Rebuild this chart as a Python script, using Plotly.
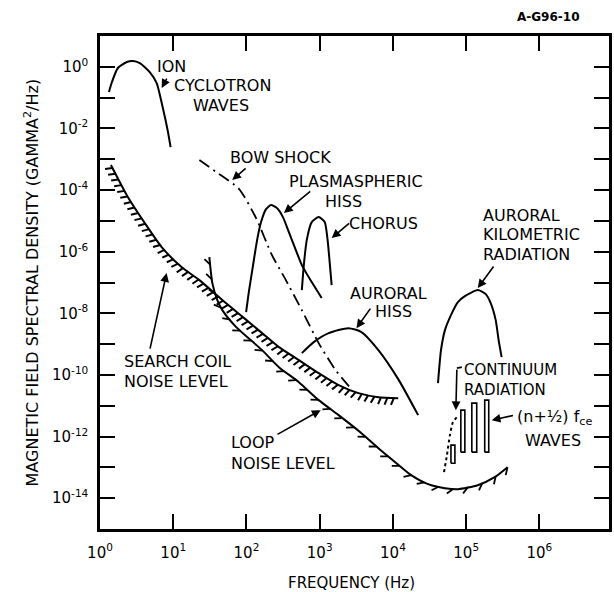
import numpy as np
import plotly.graph_objects as go

# ---------------- data (log10 of frequency in Hz, log10 of spectral density) ----------------
ion_log_f = [0.122, 0.163, 0.244, 0.366, 0.448, 0.543, 0.679, 0.774, 0.855, 0.923, 0.964]
ion_log_s = [-0.818, -0.494, -0.039, 0.156, 0.188, 0.123, -0.169, -0.526, -1.305, -2.052, -2.604]

search_log_f = [0.149, 0.380, 0.611, 0.842, 1.113, 1.357, 1.670, 1.968, 2.213, 2.443, 2.715,
                2.986, 3.258, 3.529, 3.801, 4.072]
search_log_s = [-3.188, -4.227, -5.071, -5.851, -6.500, -6.922, -7.571, -8.156, -8.643, -9.097,
                -9.519, -9.942, -10.331, -10.591, -10.721, -10.753]

loop_log_f = [1.493, 1.534, 1.602, 1.670, 1.860, 2.213, 2.443, 2.715, 2.986, 3.258, 3.570, 3.801,
              4.031, 4.249, 4.479, 4.710, 4.887, 5.158, 5.389, 5.565]
loop_log_s = [-6.175, -7.019, -7.571, -7.896, -8.448, -9.195, -9.747, -10.234, -10.818, -11.305,
              -11.890, -12.377, -12.831, -13.253, -13.545, -13.675, -13.708, -13.578, -13.318, -12.994]

bow_log_f = [1.357, 1.588, 1.900, 2.131, 2.348, 2.538, 2.756, 2.986, 3.217, 3.434]
bow_log_s = [-3.026, -3.416, -3.968, -4.909, -6.110, -6.922, -7.896, -8.968, -9.844, -10.461]

plasma_log_f = [1.995, 2.036, 2.090, 2.145, 2.199, 2.267, 2.335, 2.416, 2.498, 2.579, 2.674,
                2.756, 2.891, 3.027]
plasma_log_s = [-7.961, -7.247, -6.435, -5.623, -5.039, -4.617, -4.487, -4.584, -4.877, -5.364,
                -5.948, -6.435, -6.987, -7.506]

chorus_log_f = [2.756, 2.783, 2.823, 2.891, 2.986, 3.068, 3.108, 3.136, 3.163]
chorus_log_s = [-7.247, -6.435, -5.623, -5.039, -4.877, -5.039, -5.623, -6.338, -7.084]

auroral_log_f = [2.756, 2.918, 3.122, 3.393, 3.570, 3.801, 4.072, 4.344]
auroral_log_s = [-9.292, -8.935, -8.643, -8.481, -8.610, -9.195, -10.136, -11.305]

akr_log_f = [4.615, 4.656, 4.710, 4.792, 4.887, 4.982, 5.158, 5.267, 5.335, 5.403, 5.443, 5.484]
akr_log_s = [-10.266, -9.195, -8.545, -8.058, -7.636, -7.442, -7.247, -7.377, -7.669, -8.221,
             -8.870, -9.422]

continuum_log_f = [4.697, 4.737, 4.778, 4.819, 4.873]
continuum_log_s = [-13.156, -12.604, -11.955, -11.532, -11.370]

# (n + 1/2) fce wave bands: left / right frequency, top and base level
band_left_log_f = [4.792, 4.927, 5.077, 5.253]
band_right_log_f = [4.846, 4.982, 5.144, 5.308]
band_top_log_s = [-12.279, -11.143, -10.916, -10.818]
band_base_log_s = [-12.864, -12.506, -12.506, -12.506]

x_tick_exp = [0, 1, 2, 3, 4, 5, 6]
x_tick_labels = ["10<sup>0</sup>", "10<sup>1</sup>", "10<sup>2</sup>", "10<sup>3</sup>",
                 "10<sup>4</sup>", "10<sup>5</sup>", "10<sup>6</sup>"]
y_tick_exp = list(range(-14, 1))
y_tick_labels = ["10<sup>-14</sup>", "", "10<sup>-12</sup>", "", "10<sup>-10</sup>", "",
                 "10<sup>-8</sup>", "", "10<sup>-6</sup>", "", "10<sup>-4</sup>", "",
                 "10<sup>-2</sup>", "", "10<sup>0</sup>"]

# ---------------- geometry of the axes (pixels per decade) ----------------
X_RANGE = [0, 6.95]
Y_RANGE = [-15, 1]
PLOT_W, PLOT_H = 512, 493
PX_X = PLOT_W / (X_RANGE[1] - X_RANGE[0])
PX_Y = PLOT_H / (Y_RANGE[1] - Y_RANGE[0])

BLACK = "black"
FONT = "DejaVu Sans"


def pw(a):
    return [10 ** v for v in a]


def hatch(lf, ls, spacing, length, angle_deg):
    u = np.array(lf) * PX_X
    v = -np.array(ls) * PX_Y
    du, dv = np.diff(u), np.diff(v)
    seg = np.hypot(du, dv)
    s = np.concatenate([[0], np.cumsum(seg)])
    a = np.radians(angle_deg)
    xs, ys = [], []
    for p in np.arange(spacing / 2, s[-1], spacing):
        i = min(int(np.searchsorted(s, p, side="right")) - 1, len(seg) - 1)
        t = (p - s[i]) / seg[i]
        pu, pv = u[i] + t * du[i], v[i] + t * dv[i]
        tu, tv = du[i] / seg[i], dv[i] / seg[i]
        nu, nv = -tv, tu
        hu = np.cos(a) * nu - np.sin(a) * tu
        hv = np.cos(a) * nv - np.sin(a) * tv
        qu, qv = pu + length * hu, pv + length * hv
        xs += [10 ** (pu / PX_X), 10 ** (qu / PX_X), None]
        ys += [10 ** (-pv / PX_Y), 10 ** (-qv / PX_Y), None]
    return xs, ys


fig = go.Figure()


def curve(lf, ls, dash="solid", width=2.0, shape="spline"):
    fig.add_trace(go.Scatter(x=pw(lf), y=pw(ls), mode="lines",
                             line=dict(color=BLACK, width=width, dash=dash, shape=shape,
                                       smoothing=0.6),
                             hoverinfo="skip"))


curve(ion_log_f, ion_log_s)
curve(search_log_f, search_log_s)
curve(loop_log_f, loop_log_s)
curve(bow_log_f, bow_log_s, dash="12px,5px,2px,5px", width=1.8)
curve(plasma_log_f, plasma_log_s)
curve(chorus_log_f, chorus_log_s)
curve(auroral_log_f, auroral_log_s)
curve(akr_log_f, akr_log_s)
curve(continuum_log_f, continuum_log_s, dash="3px,3px", width=2.0)

# hatching
hx, hy = hatch(search_log_f, search_log_s, 6.5, 7.5, 20)
fig.add_trace(go.Scatter(x=hx, y=hy, mode="lines", line=dict(color=BLACK, width=2),
                         hoverinfo="skip"))
hx, hy = hatch(loop_log_f, loop_log_s, 15, 8, 50)
fig.add_trace(go.Scatter(x=hx, y=hy, mode="lines", line=dict(color=BLACK, width=1.8),
                         hoverinfo="skip"))

# (n+1/2) fce bands
bx, by = [], []
for l, r, t, b in zip(band_left_log_f, band_right_log_f, band_top_log_s, band_base_log_s):
    bx += [10 ** l, 10 ** l, 10 ** r, 10 ** r, 10 ** l, None]
    by += [10 ** b, 10 ** t, 10 ** t, 10 ** b, 10 ** b, None]
fig.add_trace(go.Scatter(x=bx, y=by, mode="lines", line=dict(color=BLACK, width=1.6),
                         hoverinfo="skip"))

# bracket of the continuum-radiation pointer
fig.add_trace(go.Scatter(x=[10 ** 4.941, 10 ** 4.873], y=[10 ** -9.747, 10 ** -9.779],
                         mode="lines", line=dict(color=BLACK, width=1.6), hoverinfo="skip"))

# ---------------- annotations ----------------
ann = []


def label(text, x, y, xanchor="center", size=16):
    ann.append(dict(x=x, y=y, xref="x", yref="y", text=text, showarrow=False,
                    xanchor=xanchor, yanchor="middle", align=xanchor if xanchor != "center" else "center",
                    font=dict(family=FONT, size=size, color=BLACK)))


def arrow(x0, y0, x1, y1):
    ann.append(dict(x=x1, y=y1, ax=x0, ay=y0, xref="x", yref="y", axref="x", ayref="y",
                    text="", showarrow=True, arrowhead=2, arrowsize=1.1, arrowwidth=1.6,
                    arrowcolor=BLACK, standoff=0, startstandoff=0))


label("ION", 0.977, 0.026)
label("CYCLOTRON", 1.670, -0.591)
label("WAVES", 1.656, -1.240)
arrow(0.923, -0.331, 0.842, -0.688)

label("BOW SHOCK", 2.470, -2.929)
arrow(2.009, -3.253, 1.805, -3.675)

label("PLASMASPHERIC", 3.502, -3.708)
label("HISS", 3.326, -4.357)
arrow(2.891, -4.0, 2.511, -4.747)

label("CHORUS", 3.869, -5.071)
arrow(3.421, -5.039, 3.163, -5.558)

label("AURORAL", 5.199, -4.812, xanchor="left")
label("KILOMETRIC", 5.199, -5.429, xanchor="left")
label("RADIATION", 5.199, -6.078, xanchor="left")
arrow(5.389, -6.435, 5.158, -7.182)

label("AURORAL", 3.937, -7.344)
label("HISS", 4.004, -7.929)
arrow(3.706, -7.799, 3.502, -8.481)

label("SEARCH COIL", 0.299, -9.552, xanchor="left")
label("NOISE LEVEL", 0.299, -10.201, xanchor="left")
arrow(0.679, -9.195, 0.909, -6.695)

label("LOOP", 1.765, -12.182, xanchor="left")
label("NOISE LEVEL", 1.765, -12.864, xanchor="left")
arrow(2.403, -11.955, 3.013, -11.143)

label("CONTINUUM<br>RADIATION", 4.941, -10.153, xanchor="left", size=15)
arrow(4.873, -9.779, 4.859, -11.143)

label("(n+½) f<sub>ce</sub>", 6.200, -11.370)
label("WAVES", 6.190, -12.117)
arrow(5.660, -11.305, 5.348, -11.468)

# axis titles and figure id
ann.append(dict(x=-0.1348, y=0.501, xref="paper", yref="paper", textangle=-90,
                text="MAGNETIC FIELD SPECTRAL DENSITY (GAMMA<sup>2</sup>/Hz)", showarrow=False,
                xanchor="center", yanchor="middle", font=dict(family=FONT, size=16, color=BLACK)))
ann.append(dict(x=0.494, y=-0.1095, xref="paper", yref="paper", text="FREQUENCY (Hz)",
                showarrow=False, xanchor="center", yanchor="middle",
                font=dict(family=FONT, size=15, color=BLACK)))
ann.append(dict(x=0.881, y=1.0385, xref="paper", yref="paper", text="<b>A-G96-10</b>",
                showarrow=False, xanchor="center", yanchor="middle",
                font=dict(family=FONT, size=12, color=BLACK)))

fig.update_layout(
    width=614, height=592,
    margin=dict(l=100, r=2, t=36, b=63),
    plot_bgcolor="white", paper_bgcolor="white",
    showlegend=False,
    font=dict(family=FONT, size=15, color=BLACK),
    annotations=ann,
    xaxis=dict(type="log", range=X_RANGE, tickmode="array",
               tickvals=[10 ** e for e in x_tick_exp], ticktext=x_tick_labels,
               ticks="inside", ticklen=15, tickwidth=2, tickcolor=BLACK,
               showline=True, linecolor=BLACK, linewidth=2.5, mirror="ticks",
               showgrid=False, zeroline=False, ticklabelstandoff=8),
    yaxis=dict(type="log", range=Y_RANGE, tickmode="array",
               tickvals=[10 ** e for e in y_tick_exp], ticktext=y_tick_labels,
               ticks="inside", ticklen=15, tickwidth=2, tickcolor=BLACK,
               showline=True, linecolor=BLACK, linewidth=2.5, mirror="ticks",
               showgrid=False, zeroline=False, ticklabelstandoff=6),
)

fig.write_html("out.html", config={"displayModeBar": False})
